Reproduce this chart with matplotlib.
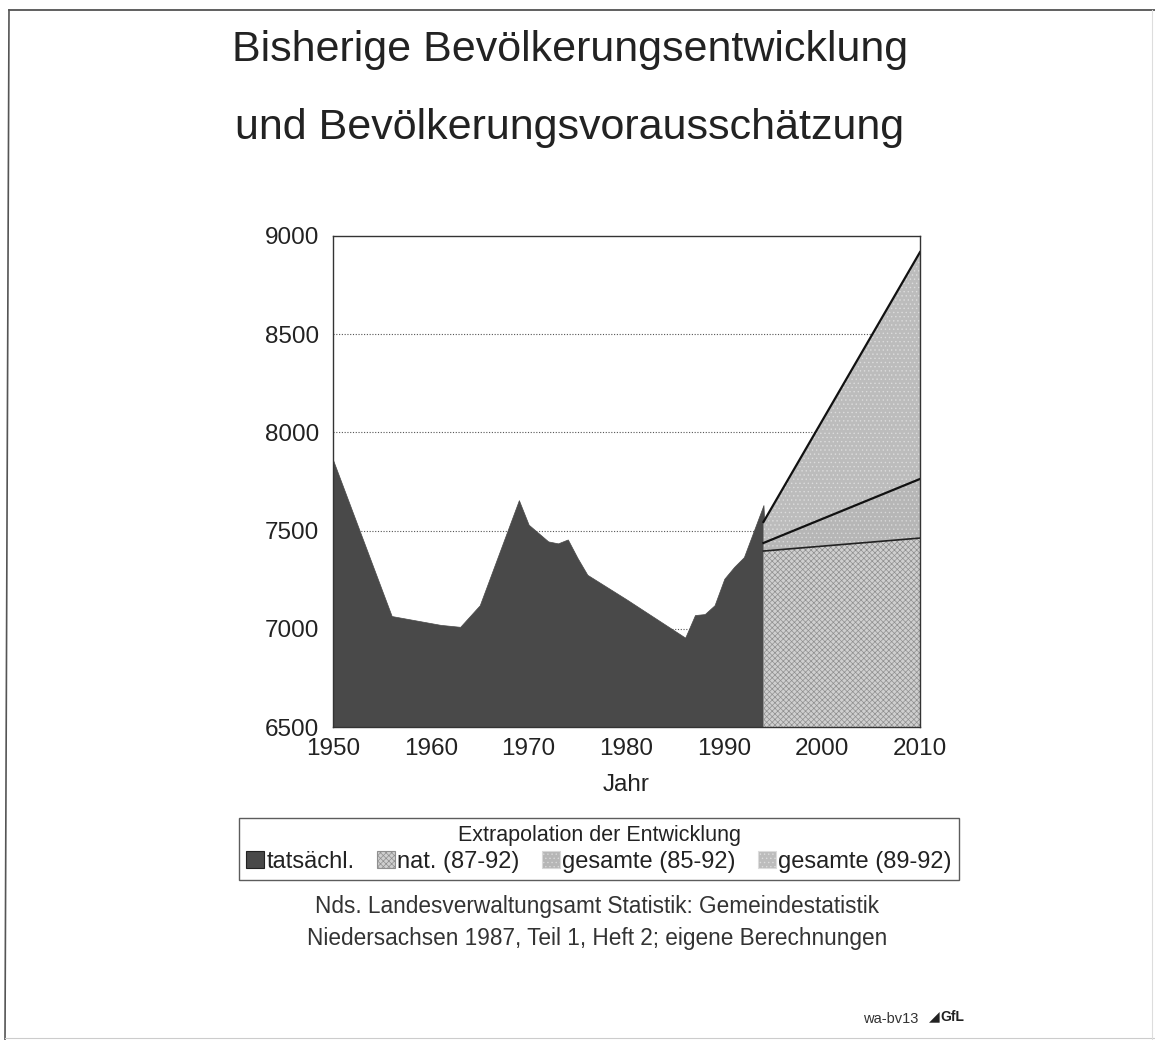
import matplotlib
matplotlib.use("Agg")
import matplotlib.pyplot as plt
from matplotlib.patches import Patch
from matplotlib.lines import Line2D

plt.rcParams["font.family"] = ["Liberation Sans", "DejaVu Sans"]
plt.rcParams["hatch.linewidth"] = 0.5

years = [1950, 1956, 1961, 1963, 1965, 1969, 1970, 1972, 1973, 1974, 1975, 1976,
         1980, 1986, 1987, 1988, 1989, 1990, 1991, 1992, 1994, 1995]
actual = [7860, 7065, 7020, 7010, 7120, 7655, 7530, 7445, 7435, 7455, 7360, 7275,
          7150, 6955, 7070, 7075, 7120, 7255, 7315, 7365, 7630, 6500]

# extrapolations
proj_years = [1994, 2010]
nat_87_92 = [7396, 7462]
ges_85_92 = [7437, 7763]
ges_89_92 = [7544, 8918]

yticks = [6500, 7000, 7500, 8000, 8500, 9000]
xticks = [1950, 1960, 1970, 1980, 1990, 2000, 2010]

W, H = 1155, 1040
fig = plt.figure(figsize=(W / 100, H / 100), dpi=100)
fig.patch.set_facecolor("white")

ax = fig.add_axes([333 / W, 1 - 727 / H, 587 / W, 491 / H])
ax.set_xlim(1950, 2010)
ax.set_ylim(6500, 9000)

for y in [7000, 7500, 8000, 8500]:
    ax.axhline(y, color="#555555", lw=0.8, ls=(0, (1, 1.5)), zorder=0)

dark = "#494949"
nat_col = "#cfcfcf"
g85_col = "#b6b6b6"
g89_col = "#bcbcbc"

ax.fill_between(years, 6500, actual, facecolor=dark, edgecolor=dark, lw=0.5, zorder=2)

ax.fill_between(proj_years, 6500, nat_87_92, facecolor=nat_col, edgecolor="#8f8f8f",
                hatch="xxxxxx", lw=0, zorder=3)
ax.fill_between(proj_years, nat_87_92, ges_85_92, facecolor=g85_col, edgecolor="#d8d8d8",
                hatch="....", lw=0, zorder=3)
ax.fill_between(proj_years, ges_85_92, ges_89_92, facecolor=g89_col, edgecolor="#dcdcdc",
                hatch="....", lw=0, zorder=3)
ax.plot(proj_years, nat_87_92, color="#222222", lw=1.2, zorder=4)
ax.plot(proj_years, ges_85_92, color="#111111", lw=1.6, zorder=4)
ax.plot(proj_years, ges_89_92, color="#111111", lw=1.6, zorder=4)

ax.set_xticks(xticks)
ax.set_yticks(yticks)
ax.tick_params(length=0, labelsize=17.5, colors="#222222", pad=8)
ax.tick_params(axis="y", pad=10)
for s in ax.spines.values():
    s.set_color("#333333")
    s.set_linewidth(1.0)
    s.set_zorder(5)
ax.set_xlabel("Jahr", fontsize=17.5, color="#222222", labelpad=10)

fig.text(570 / W, 1 - 50 / H, "Bisherige Bevölkerungsentwicklung", ha="center", va="center",
         fontsize=31, color="#222222")
fig.text(570 / W, 1 - 128 / H, "und Bevölkerungsvorausschätzung", ha="center", va="center",
         fontsize=31, color="#222222")

handles = [
    Patch(facecolor=dark, edgecolor="#222222", lw=0.8),
    Patch(facecolor=nat_col, edgecolor="#8f8f8f", hatch="xxxxxx", lw=0.8),
    Patch(facecolor=g85_col, edgecolor="#d8d8d8", hatch="....", lw=0.8),
    Patch(facecolor=g89_col, edgecolor="#dcdcdc", hatch="....", lw=0.8),
]
labels = ["tatsächl.", "nat. (87-92)", "gesamte (85-92)", "gesamte (89-92)"]
leg = fig.legend(handles, labels, loc="center", bbox_to_anchor=(599 / W, 1 - 849 / H),
                 ncol=4, title="Extrapolation der Entwicklung", fontsize=17,
                 title_fontsize=15.5, frameon=True, fancybox=False, edgecolor="#333333",
                 handlelength=0.75, handleheight=0.75, handletextpad=0.1,
                 columnspacing=0.95, borderpad=0.3, labelspacing=0.2, borderaxespad=0)
leg.get_frame().set_linewidth(1.0)
for t in leg.get_texts():
    t.set_color("#222222")
leg.get_title().set_color("#222222")

fig.text(597 / W, 1 - 907 / H, "Nds. Landesverwaltungsamt Statistik: Gemeindestatistik",
         ha="center", va="center", fontsize=16.3, color="#333333")
fig.text(597 / W, 1 - 939 / H, "Niedersachsen 1987, Teil 1, Heft 2; eigene Berechnungen",
         ha="center", va="center", fontsize=16.3, color="#333333")
fig.text(918 / W, 1 - 1019 / H, "wa-bv13", ha="right", va="center", fontsize=10.5, color="#333333")
fig.text(952 / W, 1 - 1017 / H, "GfL", ha="center", va="center", fontsize=10,
         fontweight="bold", color="#222222")
fig.text(934 / W, 1 - 1016 / H, "◢", ha="center", va="center", fontsize=10, color="#222222",
         family=["DejaVu Sans"])

# page frame of the scanned sheet
fig.add_artist(Line2D([9 / W, 1], [1 - 10 / H, 1 - 10 / H], color="#444444", lw=1.2))
fig.add_artist(Line2D([9 / W, 5 / W], [1 - 10 / H, 0], color="#555555", lw=1.2))
fig.add_artist(Line2D([5 / W, 1], [1 - 1038 / H, 1 - 1038 / H], color="#cccccc", lw=0.8))
fig.add_artist(Line2D([1152 / W, 1152 / W], [1 - 10 / H, 0], color="#dddddd", lw=0.8))

fig.savefig("out.png", dpi=100)
